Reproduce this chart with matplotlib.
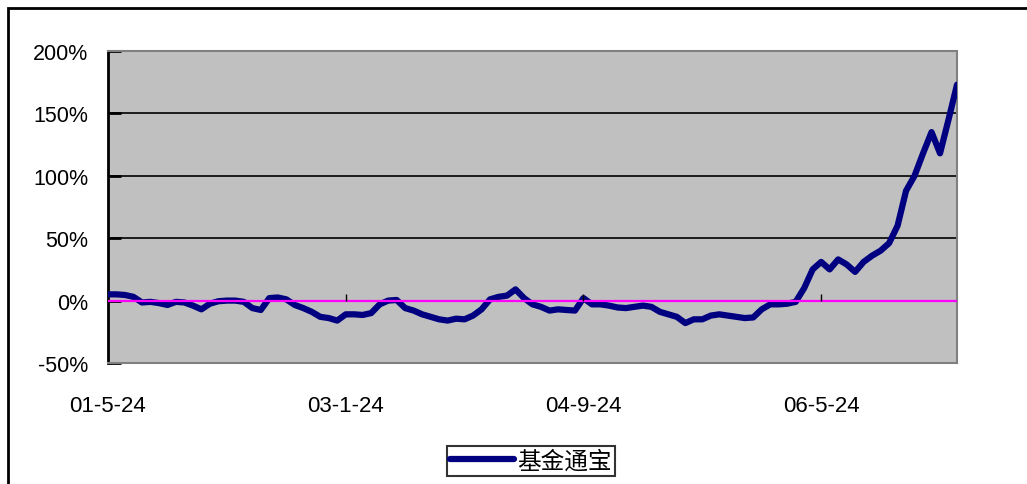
import matplotlib.pyplot as plt
import matplotlib.patches as mpatches
import numpy as np

plt.rcParams['font.family'] = ['Liberation Sans', 'Noto Sans CJK SC', 'DejaVu Sans']

# 基金通宝 累计收益率(%)，按周序列读取
jjtb = [5, 5, 4.5, 3, -1.5, -1, -2, -3.5, -1, -1.5,
        -4, -7, -2.5, -0.5, 0, 0, -1, -6, -7.5, 2,
        2.5, 1, -3.5, -6, -9, -13, -14, -16, -11, -11,
        -11.5, -10, -3, 0, 0.5, -6, -8, -11, -13, -15,
        -16, -14.5, -15, -12, -7, 1, 3, 4, 9, 2,
        -3, -5, -8, -7, -7.5, -8, 2, -3, -3, -4,
        -5.5, -6, -5, -4, -5, -9, -11, -13, -18, -15,
        -15, -12, -11, -12, -13, -14, -13.5, -7, -3, -3,
        -2.5, -1, 10, 25, 31, 25, 33, 29, 23, 31,
        36, 40, 46, 60, 88, 100, 118, 135, 118, 145,
        173]
tick_idx = [0, 28, 56, 84]
tick_labels = ['01-5-24', '03-1-24', '04-9-24', '06-5-24']
y_ticks = [-50, 0, 50, 100, 150, 200]
y_labels = ['-50%', '0%', '50%', '100%', '150%', '200%']

fig = plt.figure(figsize=(10.27, 4.85), dpi=100)
ax = fig.add_axes([108 / 1027, 1 - 364 / 485, 849 / 1027, 312 / 485])
ax.set_facecolor('#C0C0C0')

x = np.arange(len(jjtb))
ax.plot(x, jjtb, color='#000080', linewidth=4.5, solid_joinstyle='round',
        solid_capstyle='round', label='基金通宝', zorder=3)
ax.axhline(0, color='#FF00FF', linewidth=1.6, zorder=4)
ax.vlines(tick_idx[1:], 0, 5.5, color='black', linewidth=1, zorder=5)

ax.set_xlim(0, len(jjtb) - 1)
ax.set_ylim(-50, 200)
ax.set_yticks(y_ticks)
ax.set_yticklabels(y_labels)
ax.set_xticks(tick_idx)
ax.set_xticklabels(tick_labels)

for v in [50, 100, 150]:
    ax.axhline(v, color='black', linewidth=1.2, zorder=1)

for s in ['top', 'right', 'bottom']:
    ax.spines[s].set_color('#808080')
    ax.spines[s].set_linewidth(1.5)
ax.spines['left'].set_color('black')
ax.spines['left'].set_linewidth(2)

ax.tick_params(axis='y', direction='in', length=9, width=2, pad=14,
               labelsize=15.5, colors='black')
ax.tick_params(axis='x', length=0, pad=23, labelsize=16)

leg = fig.legend(loc='center', bbox_to_anchor=(531 / 1027, 1 - 462 / 485),
                 frameon=True, fancybox=False, shadow=False,
                 prop={'family': ['Noto Sans CJK SC'], 'size': 17},
                 handlelength=2.7, handletextpad=0.15, borderpad=0.15,
                 borderaxespad=0)
leg.get_frame().set_edgecolor('black')
leg.get_frame().set_linewidth(1.5)

# 外框
fig.patches.append(mpatches.Rectangle((8 / 1027, -0.1), 1.2, 1 - 9 / 485 + 0.1,
                                      transform=fig.transFigure, fill=False,
                                      edgecolor='black', linewidth=2))

fig.savefig('out.png', dpi=100)
